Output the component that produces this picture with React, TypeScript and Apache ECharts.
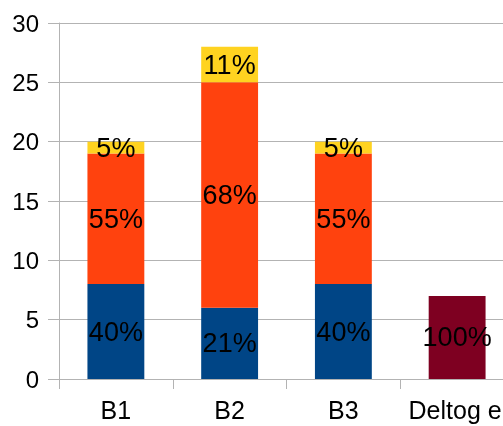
import React, { useEffect, useRef } from "react";
import * as echarts from "echarts";

const categories = ["B1", "B2", "B3", "Deltog e"];
const blueValues = [8, 6, 8, null];
const orangeValues = [11, 19, 11, null];
const yellowValues = [1, 3, 1, null];
const darkRedValues = [null, null, null, 7];
const blueLabels = ["40%", "21%", "40%", ""];
const orangeLabels = ["55%", "68%", "55%", ""];
const yellowLabels = ["5%", "11%", "5%", ""];
const darkRedLabels = ["", "", "", "100%"];

const FONT = "Liberation Sans, Arial, sans-serif";

function mkSeries(name: string, values: (number | null)[], labels: string[], color: string) {
  return {
    name,
    type: "bar",
    stack: "total",
    barWidth: "50%",
    data: values,
    itemStyle: { color },
    label: {
      show: true,
      position: "inside",
      color: "#000",
      fontSize: 27,
      fontFamily: FONT,
      formatter: (p: any) => labels[p.dataIndex],
    },
  };
}

export default function App() {
  const ref = useRef<HTMLDivElement>(null);
  useEffect(() => {
    if (!ref.current) return;
    const chart = echarts.init(ref.current, undefined, { renderer: "svg" });
    chart.setOption({
      animation: false,
      grid: { left: 59, top: 23, width: 455, height: 356, outerBoundsMode: "none", containLabel: false },
      xAxis: {
        type: "category",
        data: categories,
        boundaryGap: true,
        axisLine: { lineStyle: { color: "#b3b3b3" } },
        axisTick: { show: true, length: 10, alignWithLabel: false, lineStyle: { color: "#b3b3b3" } },
        axisLabel: {
          color: "#000",
          fontSize: 25,
          fontFamily: FONT,
          margin: 18,
          interval: 0,
          hideOverlap: false,
          formatter: (v: string) => (v === "Deltog e" ? "{d|" + v + "}" : v),
          rich: { d: { fontSize: 25, fontFamily: FONT, color: "#000", padding: [0, 4, 0, 0] } },
        },
      },
      yAxis: {
        type: "value",
        min: 0,
        max: 30,
        interval: 5,
        axisLine: { show: true, lineStyle: { color: "#b3b3b3" } },
        axisTick: { show: true, length: 11, lineStyle: { color: "#b3b3b3" } },
        splitLine: { lineStyle: { color: "#b3b3b3" } },
        axisLabel: { color: "#000", fontSize: 24, fontFamily: FONT, margin: 20 },
      },
      series: [
        mkSeries("blue", blueValues, blueLabels, "#004586"),
        mkSeries("orange", orangeValues, orangeLabels, "#ff420e"),
        mkSeries("yellow", yellowValues, yellowLabels, "#ffd320"),
        mkSeries("darkred", darkRedValues, darkRedLabels, "#7e0021"),
      ],
    });
    return () => chart.dispose();
  }, []);
  return <div ref={ref} style={{ width: 503, height: 426, position: "fixed", left: 0, top: 0 }} />;
}
